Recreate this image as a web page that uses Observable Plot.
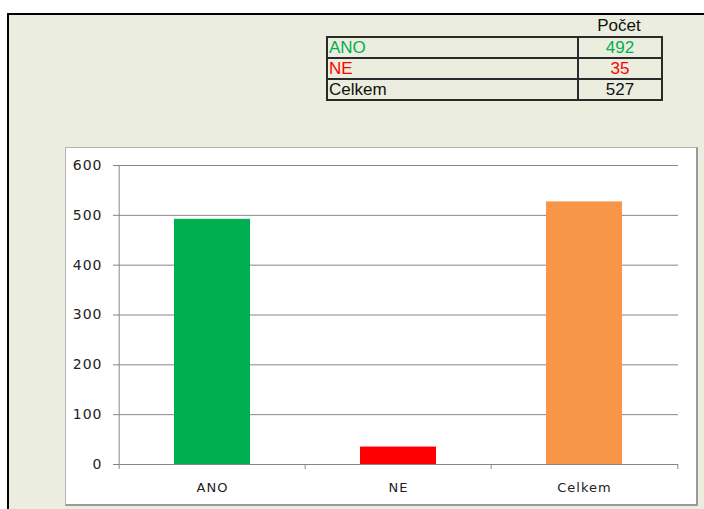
<!DOCTYPE html>
<html><head><meta charset="utf-8">
<script src="https://cdn.jsdelivr.net/npm/d3@7"></script>
<script src="https://cdn.jsdelivr.net/npm/@observablehq/plot@0.6"></script>
<style>
html,body{margin:0;padding:0;background:#fff;}
#page{position:relative;width:704px;height:509px;overflow:hidden;background:#fff;}
#bg{position:absolute;left:7px;top:13px;right:0;bottom:0;background:#EBEEDE;border-left:2px solid #000;border-top:2px solid #000;}
#tblhead{position:absolute;left:577px;top:16px;width:84px;height:20px;text-align:center;font-family:"Liberation Sans",Arial,sans-serif;font-size:17px;line-height:20px;color:#111;}
#tbl{position:absolute;left:326px;top:36px;border-collapse:collapse;table-layout:fixed;font-family:"Liberation Sans",Arial,sans-serif;font-size:17px;}
#tbl td{border:2px solid #2a2a2a;height:19px;padding:0 1px;line-height:19px;white-space:nowrap;}
#tbl td.v{text-align:center;}
#chart{position:absolute;left:65px;top:147px;width:630px;height:356px;border:1px solid #B4B4B4;border-right:2px solid #9A9A9A;border-bottom:2px solid #9A9A9A;background:#fff;}
#chart svg{display:block;}
</style>
</head><body>
<div id="page">
  <div id="bg"></div>
  <div id="tblhead"></div>
  <table id="tbl"><colgroup><col style="width:251px"><col style="width:84px"></colgroup><tbody></tbody></table>
  <div id="chart"></div>
</div>
<script>
const headerLabel = "Počet";
const categories = ["ANO", "NE", "Celkem"];
const values = [492, 35, 527];
const colors = ["#00B050", "#FF0000", "#F79646"];
const tableTextColors = ["#00B050", "#FF0000", "#111111"];
const yTicks = [0, 100, 200, 300, 400, 500, 600];

// table
document.getElementById("tblhead").textContent = headerLabel;
const tbody = document.querySelector("#tbl tbody");
categories.forEach((c, i) => {
  const tr = document.createElement("tr");
  const a = document.createElement("td");
  a.textContent = c; a.style.color = tableTextColors[i];
  const b = document.createElement("td");
  b.className = "v"; b.textContent = values[i]; b.style.color = tableTextColors[i];
  tr.appendChild(a); tr.appendChild(b); tbody.appendChild(tr);
});

const data = categories.map((c, i) => ({category: c, value: values[i]}));

const W = 630, H = 356, mL = 52, mR = 18, mT = 17, mB = 40;
const step = (W - mL - mR) / categories.length;
const gray = "#868686";

const plot = Plot.plot({
  width: W, height: H,
  marginLeft: mL, marginRight: mR, marginTop: mT, marginBottom: mB,
  style: {background: "transparent", fontFamily: "DejaVu Sans, Verdana, sans-serif", fontSize: "13px", color: "#222", overflow: "visible", letterSpacing: "1px"},
  x: {domain: categories, padding: 0, label: null},
  y: {domain: [0, 600], label: null},
  color: {domain: categories, range: colors},
  marks: [
    Plot.gridY(yTicks, {stroke: gray, strokeOpacity: 1}),
    Plot.axisY(yTicks, {tickSize: 5, tickPadding: 11, stroke: gray, fontSize: 14, label: null}),
    Plot.barY(data, {x: "category", y: "value", fill: "category", insetLeft: 55, insetRight: 55}),
    Plot.ruleY([0], {stroke: gray}),
    Plot.ruleX(categories, {x: d => d, dx: -step / 2, y1: 0, y2: -10, stroke: gray}),
    Plot.ruleX([categories[categories.length - 1]], {x: d => d, dx: step / 2, y1: 0, y2: -10, stroke: gray}),
    Plot.ruleX([categories[0]], {x: d => d, dx: -step / 2, y1: 0, y2: 600, stroke: gray}),
    Plot.axisX({tickSize: 0, tickPadding: 18, label: null})
  ]
});
document.getElementById("chart").appendChild(plot);
</script>
</body></html>
